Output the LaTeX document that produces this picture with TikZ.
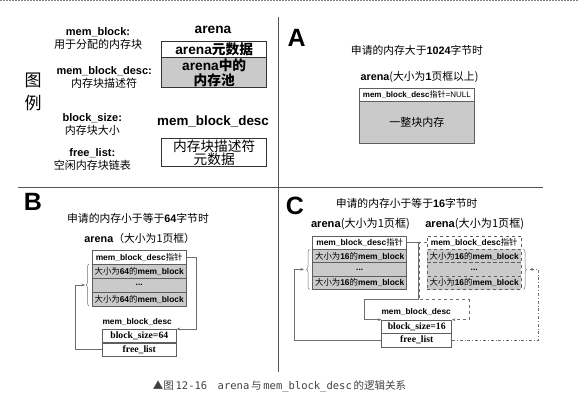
\documentclass[tikz,border=0pt]{standalone}
\usepackage{fontspec}
\setmainfont{Liberation Sans}
\newfontfamily\cjk{Noto Sans CJK SC}
\newfontfamily\tms{Liberation Serif}
\newfontfamily\capmono{DejaVu Sans Mono}
\usetikzlibrary{arrows.meta,decorations.pathreplacing}
\definecolor{memgray}{RGB}{202,202,202}
\definecolor{boxline}{RGB}{95,95,95}
\definecolor{linkgray}{RGB}{110,110,110}
\definecolor{divgray}{RGB}{85,85,85}
\newcommand{\zh}[1]{{\cjk\mdseries #1}}
\newcommand{\zhb}[1]{{\cjk\bfseries #1}}
\newcommand{\fs}[2]{\fontsize{#1}{#2}\selectfont}
\tikzset{
  legendbox/.style={draw=black!80, line width=0.6pt, minimum width=105pt, inner sep=0pt, align=center},
  rowbox/.style={draw=boxline, line width=0.6pt, minimum width=94pt, minimum height=14pt, inner sep=0pt, font=\fs{8.4}{10}\bfseries},
  memrow/.style={rowbox, fill=memgray},
  dashrow/.style={rowbox, dashed},
  memdash/.style={memrow, dashed},
  fieldbox/.style={draw=boxline, line width=0.6pt, minimum width=74pt, minimum height=13.4pt, inner sep=0pt, font=\tms\fs{9.7}{11}\bfseries},
  link/.style={draw=linkgray, line width=0.7pt, -{Stealth[length=3.5pt,width=2.8pt]}},
  bracket/.style={draw=linkgray, line width=0.5pt, decorate, decoration={brace, amplitude=3pt}},
  letter/.style={font=\fs{25}{25}\bfseries, inner sep=0pt},
  note/.style={font=\fs{11}{12.7}, align=center, inner sep=0pt},
  title/.style={font=\fs{10.8}{12}, inner sep=0pt},
  divider/.style={draw=divgray, line width=1.5pt},
}

\begin{document}
\begin{tikzpicture}[x=1pt,y=-1pt]
  \useasboundingbox (0,0) rectangle (578,403);
  \draw[gray, line width=1pt, dash pattern=on 2pt off 1pt] (0,0.5) -- (578,0.5);
  \draw[divider] (278.3,17) -- (278.3,372);
  \draw[divider] (18.3,187.7) -- (542.7,187.7);

  \node[font=\cjk\fs{17}{23}, align=center, inner sep=0pt] (tuli) at (33,91.5) {图\\例};
  \node[note] (mbk) at (98,38.7) {\textbf{mem\_block:}\\\zh{用于分配的内存块}};
  \node[note] (mbd) at (104.2,77.5) {\textbf{mem\_block\_desc:}\\\zh{内存块描述符}};
  \node[note] (bsz) at (92.3,124.8) {\textbf{block\_size:}\\\zh{内存块大小}};
  \node[note] (fls) at (92.3,159.2) {\textbf{free\_list:}\\\zh{空闲内存块链表}};

  \node[font=\fs{13.7}{14}\bfseries, inner sep=0pt] (arenalbl) at (213,29.7) {arena};
  \node[legendbox, minimum height=16pt, font=\fs{13.7}{14}\bfseries] (arenameta) at (214.2,49.7) {arena\zhb{元数据}};
  \node[legendbox, fill=memgray, minimum height=30pt, font=\fs{13.7}{14.5}\bfseries] (arenapool) at (214.2,72.7) {arena\zhb{中的}\\\zhb{内存池}};
  \node[font=\fs{13.4}{14}\bfseries, inner sep=0pt] (desclbl) at (213,121.7) {mem\_block\_desc};
  \node[legendbox, minimum height=28.4pt, font=\cjk\fs{13.7}{13.3}] (descmeta) at (214.2,152.5) {内存块描述符\\元数据};

  \node[letter] (labA) at (296.7,37.5) {A};
  \node[title] (titA) at (417,50) {\zh{申请的内存大于}\textbf{1024}\zh{字节时}};
  \node[title] (arenaA) at (419.5,77.3) {\textbf{arena}\zh{(大小为}\textbf{1}\zh{页框以上)}};
  \node[rowbox, minimum width=115.7pt, minimum height=13.4pt, font=\fs{8}{9}] (ptrA) at (416.8,95) {\textbf{mem\_block\_desc}\zh{指针}=NULL};
  \node[memrow, minimum width=115.7pt, minimum height=41.6pt, font=\cjk\fs{11}{12}] (wholeA) at (416.8,122.5) {一整块内存};

  \node[letter] (labB) at (32.8,201.7) {B};
  \node[title] (titB) at (138,218.3) {\zh{申请的内存小于等于}\textbf{64}\zh{字节时}};
  \node[title] (arenaB) at (139.7,238.3) {\textbf{arena}\zh{（大小为1页框）}};
  \node[rowbox] (ptrB) at (139.2,257) {mem\_block\_desc\zh{指针}};
  \node[memrow] (blkBa) at (139.2,271) {\zh{大小为}64\zh{的}mem\_block};
  \node[memrow] (blkBb) at (139.2,285) {...};
  \node[memrow] (blkBc) at (139.2,299) {\zh{大小为}64\zh{的}mem\_block};
  \draw[bracket] (89,306) -- (89,264);
  \coordinate (tipB) at (85,285);
  \node[font=\fs{8.3}{9}\bfseries, inner sep=0pt] (descB) at (137.2,321.7) {mem\_block\_desc};
  \node[fieldbox] (sizeB) at (139.3,336) {block\_size=64};
  \node[fieldbox] (listB) at (139.3,349.5) {free\_list};
  \draw[link] (ptrB.east) -- ++(10,0) |- (sizeB.north east);
  \draw[link] (listB.west) -- ++(-27,0) |- (tipB);

  \node[letter] (labC) at (295,205.8) {C};
  \node[title] (titC) at (406.7,203.3) {\zh{申请的内存小于等于}\textbf{16}\zh{字节时}};
  \node[title, font=\fs{11.1}{12}] (arenaC) at (360.5,224.3) {\textbf{arena}\zh{(大小为1页框)}};
  \node[title, font=\fs{11.1}{12}] (arenaD) at (474.7,224.3) {\textbf{arena}\zh{(大小为1页框)}};
  \node[rowbox, minimum height=13.4pt] (ptrC) at (359.7,242.6) {mem\_block\_desc\zh{指针}};
  \node[memrow, minimum height=13.4pt] (blkCa) at (359.7,256) {\zh{大小为}16\zh{的}mem\_block};
  \node[memrow, minimum height=13.4pt] (blkCb) at (359.7,269.4) {...};
  \node[memrow, minimum height=13.4pt] (blkCc) at (359.7,282.8) {\zh{大小为}16\zh{的}mem\_block};
  \node[dashrow, minimum height=13.4pt] (ptrD) at (474.2,242.6) {mem\_block\_desc\zh{指针}};
  \node[memdash, minimum height=13.4pt] (blkDa) at (474.2,256) {\zh{大小为}16\zh{的}mem\_block};
  \node[memdash, minimum height=13.4pt] (blkDb) at (474.2,269.4) {...};
  \node[memdash, minimum height=13.4pt] (blkDc) at (474.2,282.8) {\zh{大小为}16\zh{的}mem\_block};
  \draw[bracket] (309.5,289.5) -- (309.5,249.3);
  \draw[bracket] (523.5,249.3) -- (523.5,289.5);
  \coordinate (tipC) at (304,269.4);
  \coordinate (tipD) at (529.5,269.4);
  \node[font=\fs{8.3}{9}\bfseries, inner sep=0pt] (descC) at (416.2,311.7) {mem\_block\_desc};
  \node[fieldbox, minimum width=70pt] (sizeC) at (416.7,326.7) {block\_size=16};
  \node[fieldbox, minimum width=70pt] (listC) at (416.7,340.1) {free\_list};
  \draw[link] (ptrC.east) -- ++(11.6,0) -- ++(0,56.7) -- ++(-54.3,0) |- (sizeC.north west);
  \draw[link, dashed] (ptrD.west) -- ++(-8,0) -- ++(0,56.7) -- ++(50,0) |- (sizeC.north east);
  \draw[link] (listC.west) -- ++(-86.7,0) |- (tipC);
  \draw[link, dash dot] (listC.east) -- ++(86.6,0) |- (tipD);

  \node[font=\fs{10.5}{12}, text=black!75, inner sep=0pt] (caption) at (279.5,386) {\zh{▲图}\,{\capmono 12-16}\quad{\capmono arena}\,\zh{与}\,{\capmono mem\_block\_desc}\,\zh{的逻辑关系}};
\end{tikzpicture}
\end{document}
